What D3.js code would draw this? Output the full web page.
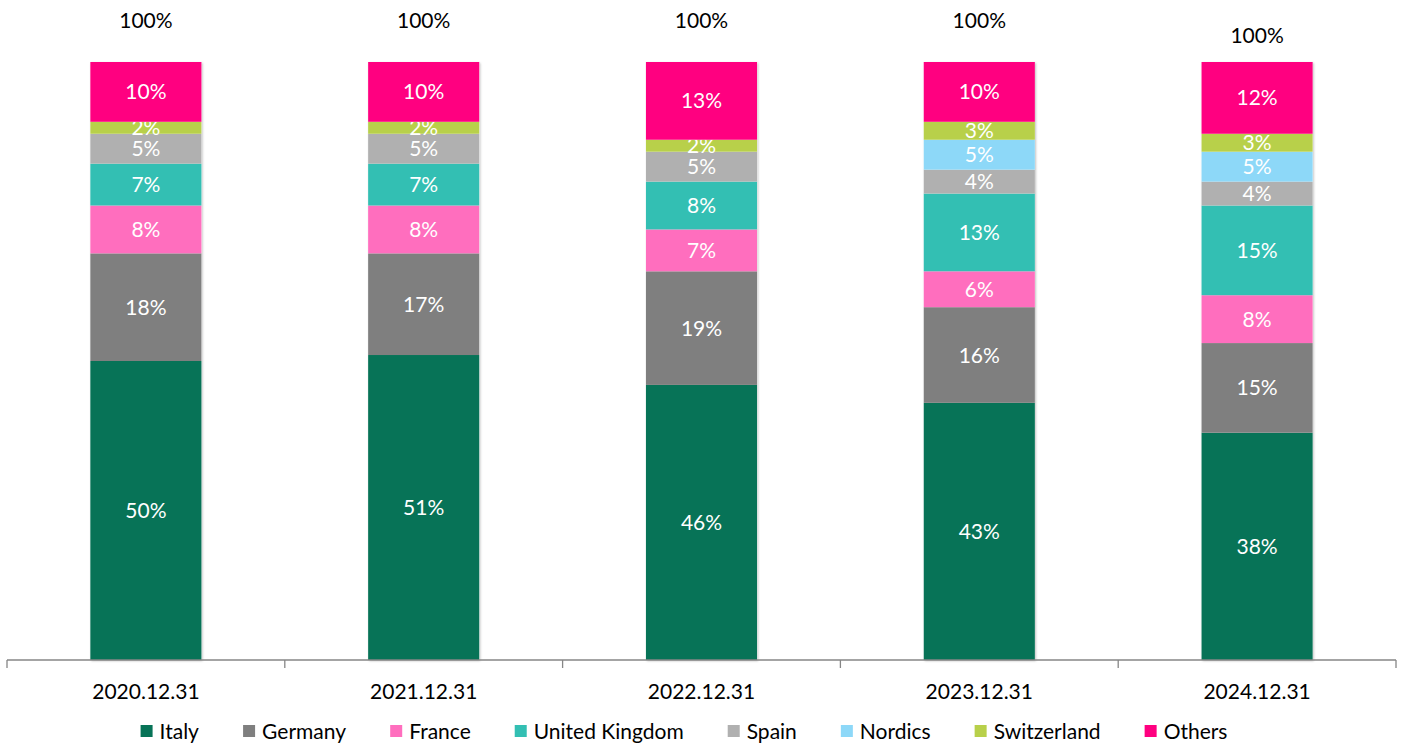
<!DOCTYPE html>
<html>
<head>
<meta charset="utf-8">
<script src="https://cdn.jsdelivr.net/npm/d3@7"></script>
<style>
    body { margin: 0; background: #fff; }
    svg { font-family: Lato, "Open Sans", sans-serif; }
</style>
</head>
<body>
<div id="chart"></div>
<script>
    // categories and series
    var periods = ["2020.12.31", "2021.12.31", "2022.12.31", "2023.12.31", "2024.12.31"];
    var countries = ["Italy", "Germany", "France", "United Kingdom", "Spain", "Nordics", "Switzerland", "Others"];
    var italy = [50, 51, 46, 43, 38];
    var germany = [18, 17, 19, 16, 15];
    var france = [8, 8, 7, 6, 8];
    var uk = [7, 7, 8, 13, 15];
    var spain = [5, 5, 5, 4, 4];
    var nordics = [0, 0, 0, 5, 5];
    var switzerland = [2, 2, 2, 3, 3];
    var others = [10, 10, 13, 10, 12];
    var totals = [100, 100, 100, 100, 100];
    // where the "100%" label sits (value units)
    var totalLabelAt = [107, 107, 107, 107, 104.5];

    var colors = ["#077357", "#7f7f7f", "#ff6ebe", "#33bfb3", "#b0b0b0", "#8dd8f8", "#b8d04a", "#ff0080"];
    var series = [italy, germany, france, uk, spain, nordics, switzerland, others];

    var width = 1406, height = 743;
    var margin = {left: 7, right: 10, top: 62, bottom: 83};
    var fontSize = "21px";

    var svg = d3.select("#chart").append("svg")
        .attr("width", width)
        .attr("height", height);

    var defs = svg.append("defs");
    var shadow = defs.append("filter").attr("id", "shadow")
        .attr("x", "-5%").attr("y", "-5%").attr("width", "115%").attr("height", "115%");
    shadow.append("feDropShadow")
        .attr("dx", 1).attr("dy", 1).attr("stdDeviation", 1.2)
        .attr("flood-color", "#000").attr("flood-opacity", 0.25);

    var x = d3.scaleBand()
        .domain(periods)
        .range([margin.left, width - margin.right])
        .padding(0);

    var y = d3.scaleLinear()
        .domain([0, 100])
        .range([height - margin.bottom, margin.top]);

    var barW = x.bandwidth() * 0.4;

    // table for the stack
    var table = periods.map(function (p, i) {
        var row = {period: p};
        countries.forEach(function (c, j) { row[c] = series[j][i]; });
        return row;
    });

    var stacked = d3.stack().keys(countries)(table);

    var layers = svg.selectAll("g.layer")
        .data(stacked)
        .enter().append("g")
        .attr("class", "layer")
        .attr("fill", (d, i) => colors[i]);

    // shadows behind whole bars
    svg.insert("g", "g.layer").selectAll("rect")
        .data(periods)
        .enter().append("rect")
        .attr("x", d => x(d) + (x.bandwidth() - barW) / 2)
        .attr("y", y(100))
        .attr("width", barW)
        .attr("height", y(0) - y(100))
        .attr("fill", "#fff")
        .attr("filter", "url(#shadow)");

    layers.selectAll("rect")
        .data(d => d)
        .enter().append("rect")
        .attr("x", d => x(d.data.period) + (x.bandwidth() - barW) / 2)
        .attr("y", d => y(d[1]))
        .attr("width", barW)
        .attr("height", d => y(d[0]) - y(d[1]));

    layers.selectAll("text")
        .data(d => d.filter(v => v[1] - v[0] > 0))
        .enter().append("text")
        .attr("x", d => x(d.data.period) + x.bandwidth() / 2)
        .attr("y", d => y((d[0] + d[1]) / 2))
        .attr("dy", "0.36em")
        .attr("text-anchor", "middle")
        .attr("fill", "#fff")
        .attr("font-size", fontSize)
        .text(d => Math.round(d[1] - d[0]) + "%");

    // totals
    svg.append("g").selectAll("text")
        .data(periods)
        .enter().append("text")
        .attr("x", d => x(d) + x.bandwidth() / 2)
        .attr("y", (d, i) => y(totalLabelAt[i]))
        .attr("dy", "0.36em")
        .attr("text-anchor", "middle")
        .attr("fill", "#000")
        .attr("font-size", fontSize)
        .text((d, i) => totals[i] + "%");

    // x axis with ticks between categories
    var axisY = y(0);
    var axis = svg.append("g");
    axis.append("line")
        .attr("x1", x.range()[0]).attr("x2", x.range()[1])
        .attr("y1", axisY).attr("y2", axisY)
        .attr("stroke", "#868686").attr("stroke-width", 1.3);
    var bounds = periods.map(p => x(p)).concat([x.range()[1]]);
    axis.selectAll("line.tick")
        .data(bounds)
        .enter().append("line")
        .attr("class", "tick")
        .attr("x1", d => d).attr("x2", d => d)
        .attr("y1", axisY).attr("y2", axisY + 8)
        .attr("stroke", "#868686").attr("stroke-width", 1.3);
    axis.selectAll("text")
        .data(periods)
        .enter().append("text")
        .attr("x", d => x(d) + x.bandwidth() / 2)
        .attr("y", axisY + 31)
        .attr("dy", "0.36em")
        .attr("text-anchor", "middle")
        .attr("fill", "#000")
        .attr("font-size", fontSize)
        .text(d => d);

    // legend
    var legend = svg.append("g");
    var items = legend.selectAll("g")
        .data(countries)
        .enter().append("g");
    items.append("rect")
        .attr("width", 12).attr("height", 12)
        .attr("y", -6)
        .attr("fill", (d, i) => colors[i]);
    items.append("text")
        .attr("x", 19)
        .attr("dy", "0.36em")
        .attr("font-size", fontSize)
        .attr("fill", "#000")
        .text(d => d);

    var gap = 44, pos = 0;
    items.each(function () {
        d3.select(this).attr("transform", "translate(" + pos + ",0)");
        pos += this.getBBox().width + gap;
    });
    var legendW = pos - gap;
    legend.attr("transform", "translate(" + ((width - legendW) / 2 - 19) + "," + 731 + ")");
</script>
</body>
</html>
